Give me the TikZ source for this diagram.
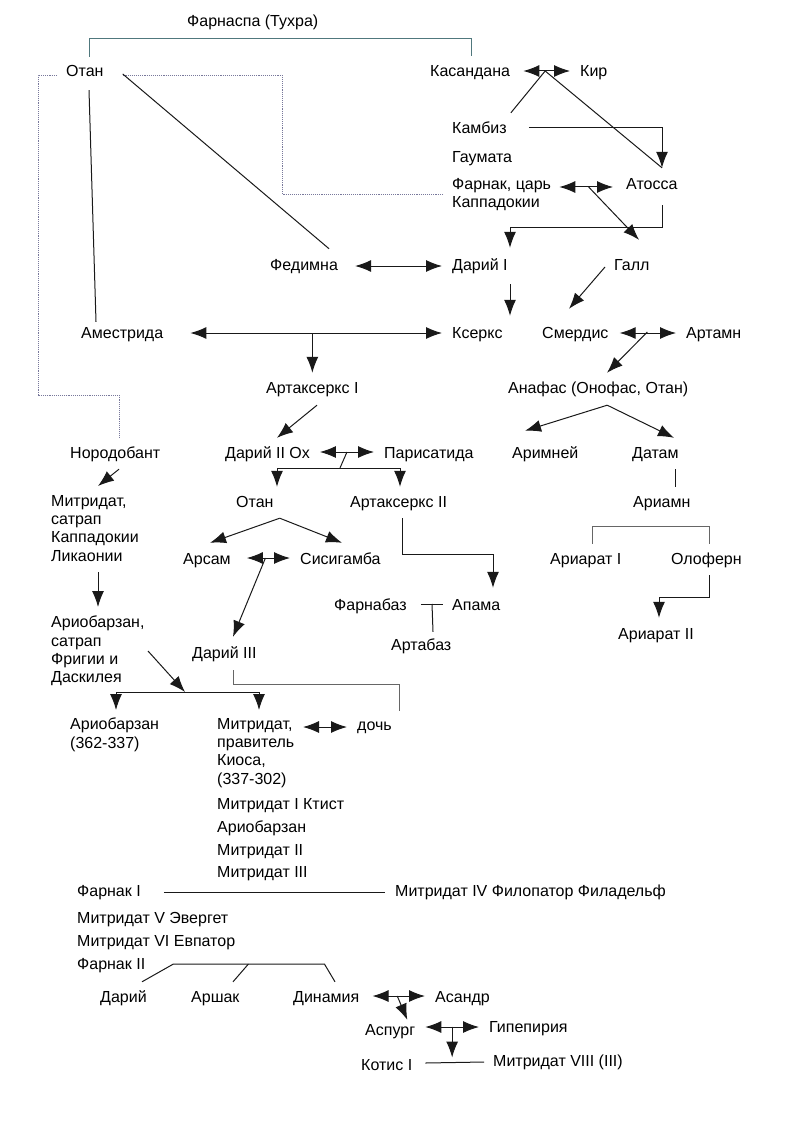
\documentclass[tikz,border=0pt]{standalone}
\usepackage{fontspec}
\setmainfont{Liberation Sans}
\usetikzlibrary{arrows.meta, calc, positioning}

\definecolor{dotgray}{RGB}{120,120,155}
\definecolor{clangray}{RGB}{80,120,125}

\begin{document}
\begin{tikzpicture}[x=1pt, y=-1pt,
    person/.style={anchor=west, inner sep=0pt, text height=13pt, text depth=1pt, font=\fontsize{16}{18}\selectfont},
    block/.style={anchor=north west, inner sep=0pt, align=left, font=\fontsize{16}{18.3}\selectfont},
    link/.style={line width=1pt, black!90},
    kin/.style={line width=1pt, black!60},
    clan/.style={line width=1pt, clangray},
    hint/.style={line width=0.9pt, densely dotted, dotgray},
    son/.style={link, -{Latex[length=16pt, width=12pt]}},
    wed/.style={link, {Latex[length=16pt, width=12pt]}-{Latex[length=16pt, width=12pt]}}]
    \useasboundingbox (0,0) rectangle (794,1123);

    \node[person] (farnaspa) at (187,21) {Фарнаспа (Тухра)};
    \node[person] (otan1) at (66,71) {Отан};
    \node[person] (kas) at (430,71) {Касандана};
    \node[person] (kir) at (580,71) {Кир};
    \node[person] (kambiz) at (452,128) {Камбиз};
    \node[person] (gaumata) at (452,157) {Гаумата};
    \node[block] (farnak) at (452,178) {Фарнак, царь\\Каппадокии};
    \node[person] (atossa) at (626,184) {Атосса};
    \node[person] (fedimna) at (270,264) {Федимна};
    \node[person] (darius1) at (452,264) {Дарий I};
    \node[person] (gall) at (614,264) {Галл};
    \node[person] (amestrida) at (81,332) {Аместрида};
    \node[person] (kserks) at (452,332) {Ксеркс};
    \node[person] (smerdis) at (542,332) {Смердис};
    \node[person] (artamn) at (686,332) {Артамн};
    \node[person] (artax1) at (266,387) {Артаксеркс I};
    \node[person] (anafas) at (508,387) {Анафас (Онофас, Отан)};
    \node[person] (norodobant) at (70,452) {Нородобант};
    \node[person] (darius2) at (225,452) {Дарий II Ох};
    \node[person] (parisatida) at (384,452) {Парисатида};
    \node[person] (arimnei) at (512,452) {Аримней};
    \node[person] (datam) at (632,452) {Датам};
    \node[block] (mitrsatrap) at (51,495) {Митридат,\\сатрап\\Каппадокии\\Ликаонии};
    \node[person] (otan2) at (236,501) {Отан};
    \node[person] (artax2) at (350,501) {Артаксеркс II};
    \node[person] (ariamn) at (633,501) {Ариамн};
    \node[person] (arsam) at (183,558) {Арсам};
    \node[person] (sisigamba) at (300,558) {Сисигамба};
    \node[person] (ariarat1) at (550,558) {Ариарат I};
    \node[person] (olofern) at (671,558) {Олоферн};
    \node[person] (farnabaz) at (334,604) {Фарнабаз};
    \node[person] (apama) at (452,604) {Апама};
    \node[block] (ariobsatrap) at (51,616) {Ариобарзан,\\сатрап\\Фригии и\\Даскилея};
    \node[person] (ariarat2) at (618,633) {Ариарат II};
    \node[person] (artabaz) at (391,644) {Артабаз};
    \node[person] (darius3) at (192,652) {Дарий III};
    \node[block] (ariob) at (70,718) {Ариобарзан\\(362-337)};
    \node[block] (mitrkios) at (217,718) {Митридат,\\правитель\\Киоса,\\(337-302)};
    \node[person] (doch) at (357,724) {дочь};
    \foreach \nm/\yy/\id in {Митридат I Ктист/803/1, Ариобарзан/826/2, Митридат II/849/3, Митридат III/871/4}
      \node[person] (pontus\id) at (217,\yy) {\nm};
    \node[person] (farnak1) at (77,890) {Фарнак I};
    \node[person] (mitr4) at (395,890) {Митридат IV Филопатор Филадельф};
    \node[person] (mitr5) at (77,917) {Митридат V Эвергет};
    \node[person] (mitr6) at (77,940) {Митридат VI Евпатор};
    \node[person] (farnak2) at (77,963) {Фарнак II};
    \node[person] (darius4) at (100,996) {Дарий};
    \node[person] (arshak) at (191,996) {Аршак};
    \node[person] (dinamia) at (293,996) {Динамия};
    \node[person] (asandr) at (435,996) {Асандр};
    \node[person] (aspurg) at (365,1029) {Аспург};
    \node[person] (gipepiria) at (489,1026) {Гипепирия};
    \node[person] (kotis) at (361,1064) {Котис I};
    \node[person] (mitr8) at (493,1060) {Митридат VIII (III)};

    \coordinate (kk) at ($(kas.east)!.5!(kir.west)$);
    \coordinate (fa) at ($([yshift=-3]farnak.east |- atossa.west)!.5!([yshift=-3]atossa.west)$);
    \coordinate (sa) at ($(smerdis.east)!.5!(artamn.west)$);
    \coordinate (dp) at ($(darius2.east)!.5!(parisatida.west)$);
    \coordinate (db) at ([xshift=-7,yshift=-16]dp);
    \coordinate (as) at ($(arsam.east)!.5!(sisigamba.west)$);
    \coordinate (da) at ($(dinamia.east)!.5!(asandr.west)$);
    \coordinate (ag) at ($([yshift=2]aspurg.east)!.5!(gipepiria.west)$);
    \coordinate (hk) at (282,75);
    \coordinate (hl) at (38,395);
    \coordinate (atip) at ([xshift=36,yshift=9]atossa.north west);
    \coordinate (an) at ([xshift=9,yshift=-11]anafas.south);
    \coordinate (abar) at ([xshift=115,yshift=26]ariob.north west);
    \coordinate (fl) at ([xshift=28,yshift=-1]farnak2.east);
    \coordinate (fm) at ([xshift=75]fl);
    \coordinate (fr) at ([xshift=151]fl);

    \draw[clan] ([xshift=23,yshift=7]otan1.north west) |- ([yshift=-10]farnaspa.south) -| ([xshift=41,yshift=8]kas.north west);
    \draw[hint] ([xshift=-9]farnak.west) -| (hk) -- ([xshift=19,yshift=-4]otan1.east);
    \draw[hint] ([xshift=-9,yshift=-4]otan1.west) -| (hl) -| ([xshift=4,yshift=8]norodobant.north);
    \draw[link] ([xshift=23,yshift=-12]otan1.south west) -- ([xshift=15,yshift=3]amestrida.north west);
    \draw[link] ([xshift=19,yshift=-3]otan1.east) -- ([xshift=-9,yshift=8]fedimna.north east);

    \draw[wed] ([xshift=13]kas.east) -- ([xshift=-10]kir.west);
    \draw[link] (kk) -- ([xshift=4,yshift=8]kambiz.north east);
    \draw[link] (kk) -- (atip);
    \draw[son] ([xshift=22]kambiz.east) -| (atip);
    \draw[wed] ([xshift=8]farnak.east |- fa) -- ([xshift=-13]atossa.west |- fa);
    \draw[son] (fa) -- ([xshift=25,yshift=17]gall.north west);
    \draw[son] ([xshift=36,yshift=-14]atossa.south west) -- ++(0,22) -| ([xshift=58,yshift=9]darius1.north west);
    \draw[wed] ([xshift=17,yshift=-2]fedimna.east) -- ([xshift=-10,yshift=-2]darius1.west);
    \draw[son] ([xshift=58,yshift=-13]darius1.south west) -- ([xshift=58,yshift=9]kserks.north west);
    \draw[son] ([xshift=-9,yshift=-3]gall.west) -- ([xshift=27,yshift=16]smerdis.north west);
    \draw[wed] ([xshift=27,yshift=-1]amestrida.east) -- ([xshift=-10,yshift=-1]kserks.west);
    \draw[son] ([yshift=-1]artax1.north |- amestrida.east) -- ([yshift=7]artax1.north);
    \draw[wed] ([xshift=11,yshift=-1]smerdis.east) -- ([xshift=-10,yshift=-1]artamn.west);
    \draw[son] (sa) -- ([xshift=99,yshift=7]anafas.north west);
    \draw[son] ([xshift=51,yshift=-11]artax1.south west) -- ([xshift=52,yshift=7]darius2.north west);
    \draw[son] (an) -- ([xshift=13,yshift=14]arimnei.north west);
    \draw[son] (an) -- ([xshift=42,yshift=7]datam.north west);

    \draw[son] ([xshift=49,yshift=-10]norodobant.south west) -- ([xshift=47,yshift=9]mitrsatrap.north west);
    \draw[wed] ([xshift=10]darius2.east) -- ([xshift=-10]parisatida.west);
    \draw[link] (dp) -- (db);
    \draw[son] (db) -| ([xshift=41,yshift=7]otan2.north west);
    \draw[son] (db) -| ([xshift=50,yshift=7]artax2.north west);
    \draw[link] ([xshift=43,yshift=-10]datam.south west) -- ([xshift=42,yshift=7]ariamn.north west);
    \draw[son] ([xshift=6,yshift=-10]otan2.south east) -- ([xshift=27,yshift=8]arsam.north west);
    \draw[son] ([xshift=6,yshift=-10]otan2.south east) -- ([xshift=42,yshift=8]sisigamba.north west);
    \draw[kin] ([xshift=42,yshift=7]ariarat1.north west) |- ([yshift=-18]ariamn.south) -| ([xshift=38,yshift=7]olofern.north west);
    \draw[wed] ([xshift=16]arsam.east) -- ([xshift=-10]sisigamba.west);
    \draw[son] (as) -- ([xshift=41,yshift=8]darius3.north west);
    \draw[son] ([xshift=52,yshift=-10]artax2.south west) |- ++(91,36) -- ([xshift=41,yshift=9]apama.north west);
    \draw[son] ([xshift=38,yshift=-10]olofern.south west) -- ++(0,22) -| ([xshift=41,yshift=8]ariarat2.north west);
    \draw[son] ([xshift=47,yshift=-11]mitrsatrap.south west) -- ([xshift=47,yshift=9]ariobsatrap.north west);
    \draw[link] ([xshift=14]farnabaz.east) -- ([xshift=-9]apama.west);
    \draw[link] ([xshift=-20]apama.west) -- ([xshift=42,yshift=5]artabaz.north west);

    \draw[son] ([xshift=97,yshift=-35]ariobsatrap.north west) -- (abar);
    \draw[son] (abar) -| ([xshift=46,yshift=8]ariob.north west);
    \draw[son] (abar) -| ([xshift=42,yshift=8]mitrkios.north west);
    \draw[kin] ([xshift=41,yshift=-11]darius3.south west) |- ++(166,14) -- ([xshift=42,yshift=6]doch.north west);
    \draw[wed] ([xshift=-54,yshift=-3]doch.west) -- ([xshift=-10,yshift=-3]doch.west);
    \draw[link] ([xshift=23,yshift=-2]farnak1.east) -- ([xshift=-10,yshift=-2]mitr4.west);

    \draw[link] ([xshift=42,yshift=7]darius4.north west) -- (fl) -- (fr) -- ([xshift=42,yshift=7]dinamia.north west);
    \draw[link] (fm) -- ([xshift=42,yshift=7]arshak.north west);
    \draw[wed] ([xshift=13]dinamia.east) -- ([xshift=-10]asandr.west);
    \draw[son] (da) -- ([xshift=-8,yshift=2]aspurg.north east);
    \draw[wed] ([xshift=10,yshift=2]aspurg.east) -- ([xshift=-10,yshift=-1]gipepiria.west);
    \draw[son] (ag) -- ++(0,31);
    \draw[link] ([xshift=13,yshift=1]kotis.east) -- ([xshift=-9,yshift=-2]mitr8.west);
\end{tikzpicture}
\end{document}
